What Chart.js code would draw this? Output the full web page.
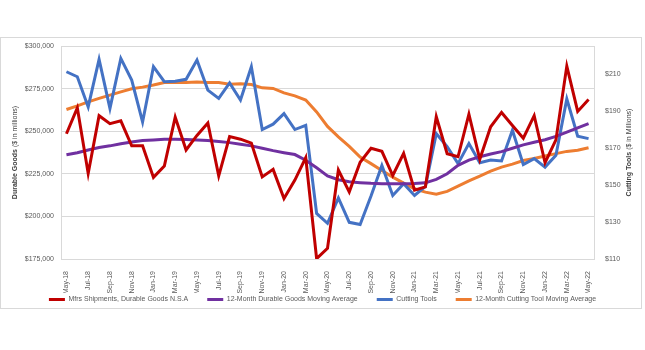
<!DOCTYPE html>
<html>
<head>
<meta charset="utf-8">
<script src="https://cdn.jsdelivr.net/npm/chart.js@4"></script>
<style>
  body { margin: 0; background: #fff; }
  #wrap { position: relative; width: 645px; height: 350px; }
  #frame { position: absolute; left: 0; top: 37px; width: 642px; height: 272px; border: 1px solid #d9d9d9; box-sizing: border-box; }
  canvas { position: absolute; left: 0; top: 0; }
</style>
</head>
<body>
<div id="wrap">
  <div id="frame"></div>
  <canvas id="chart" width="645" height="350"></canvas>
</div>
<script>
const months = [
  'May-18', 'Jun-18', 'Jul-18', 'Aug-18', 'Sep-18', 'Oct-18', 'Nov-18', 'Dec-18',
  'Jan-19', 'Feb-19', 'Mar-19', 'Apr-19', 'May-19', 'Jun-19', 'Jul-19', 'Aug-19', 'Sep-19', 'Oct-19', 'Nov-19', 'Dec-19',
  'Jan-20', 'Feb-20', 'Mar-20', 'Apr-20', 'May-20', 'Jun-20', 'Jul-20', 'Aug-20', 'Sep-20', 'Oct-20', 'Nov-20', 'Dec-20',
  'Jan-21', 'Feb-21', 'Mar-21', 'Apr-21', 'May-21', 'Jun-21', 'Jul-21', 'Aug-21', 'Sep-21', 'Oct-21', 'Nov-21', 'Dec-21',
  'Jan-22', 'Feb-22', 'Mar-22', 'Apr-22', 'May-22'
]

// $ millions, left axis
const durableGoods = [
  248500, 263700, 225200, 259100, 254400, 256100, 241400, 241400,
  222900, 229500, 258300, 239000, 247500, 254800, 223800, 246900, 245300, 243000, 223200, 227600,
  210500, 221300, 234500, 175200, 181300, 227200, 214400, 231800, 240000, 238200, 224000, 237000,
  215400, 217300, 258500, 236800, 235000, 260000, 233500, 252600, 261000, 253300, 245900, 259100,
  231500, 244900, 288200, 261600, 268600
]
const durableAvg = [
  236200, 237400, 239000, 240400, 241400, 242600, 243700, 244500,
  244900, 245300, 245300, 245100, 244900, 244500, 243900, 243300, 242400, 241400, 240000, 238600,
  237400, 236300, 233000, 228500, 223800, 221500, 220300, 219800, 219400, 219200, 219200, 219200,
  219300, 219700, 221700, 225000, 230000, 233000, 235000, 236600, 238000, 240000, 242000, 243500,
  245000, 247000, 249500, 252000, 254500
]

// $ millions, right axis
const cuttingTools = [
  211.1, 208.4, 192.1, 217.8, 191.3, 218.3, 206.6, 184.0,
  213.8, 205.7, 206.0, 207.0, 217.4, 201.2, 196.7, 205.1, 195.8, 213.8, 179.9, 182.8,
  188.5, 179.9, 182.2, 134.6, 129.3, 143.0, 129.8, 128.6, 144.0, 160.5, 144.3, 150.6,
  144.3, 149.2, 177.7, 170.6, 161.5, 172.3, 162.0, 163.4, 162.9, 179.5, 161.0, 164.2,
  159.6, 166.0, 196.4, 176.3, 175.0
]
const cuttingAvg = [
  190.7, 192.7, 194.8, 196.7, 198.5, 200.2, 201.9, 202.8,
  203.9, 205.3, 205.3, 205.3, 205.5, 205.3, 205.3, 204.4, 204.6, 204.2, 202.4, 202.1,
  199.7, 198.1, 195.8, 189.4, 181.6, 175.9, 170.8, 165.0, 161.5, 157.8, 154.2, 151.0,
  147.9, 146.1, 145.0, 146.5, 149.3, 152.2, 154.8, 157.4, 159.6, 161.2, 163.2, 164.3,
  165.6, 166.9, 168.1, 168.7, 170.1
]

const rightTicks = [110, 130, 150, 170, 190, 210]

const fontFamily = '"Liberation Sans", Arial, sans-serif'
Chart.defaults.font.family = fontFamily
Chart.defaults.font.size = 7
Chart.defaults.color = '#595959'

function drawTitle(ctx, x, y, boldPart, normalPart) {
  ctx.save()
  ctx.translate(x, y)
  ctx.rotate(-Math.PI / 2)
  ctx.textBaseline = 'middle'
  ctx.textAlign = 'left'
  ctx.fillStyle = '#404040'
  ctx.font = 'bold 7px ' + fontFamily
  const w1 = ctx.measureText(boldPart).width
  ctx.font = '7px ' + fontFamily
  const w2 = ctx.measureText(normalPart).width
  const start = -(w1 + w2) / 2
  ctx.font = 'bold 7px ' + fontFamily
  ctx.fillText(boldPart, start, 0)
  ctx.font = '7px ' + fontFamily
  ctx.fillText(normalPart, start + w1, 0)
  ctx.restore()
}

// axis titles with a bold and a plain part
const axisTitles = {
  id: 'axisTitles',
  beforeDraw(chart) {
    // let the rotated month labels reach below the thin x box without clipping
    const x = chart.scales.x
    x.bottom = x.top + 34
  },
  afterDraw(chart) {
    const area = chart.chartArea
    const cy = (area.top + area.bottom) / 2
    drawTitle(chart.ctx, 15, cy, 'Durable Goods ', '($ in millions)')
    drawTitle(chart.ctx, 629, cy, 'Cutting Tools ', '($ in Millions)')
  }
}

function line(label, data, color, axis) {
  return {
    label,
    data,
    yAxisID: axis,
    borderColor: color,
    backgroundColor: color,
    borderWidth: 3,
    pointRadius: 0,
    tension: 0
  }
}

new Chart(document.getElementById('chart'), {
  type: 'line',
  data: {
    labels: months,
    datasets: [
      line('Mfrs Shipments, Durable Goods N.S.A', durableGoods, '#c00000', 'y'),
      line('12-Month Durable Goods Moving Average', durableAvg, '#7030a0', 'y'),
      line('Cutting Tools', cuttingTools, '#4472c4', 'y2'),
      line('12-Month Cutting Tool Moving Average', cuttingAvg, '#ed7d31', 'y2')
    ]
  },
  options: {
    responsive: false,
    animation: false,
    layout: { padding: { top: 46, bottom: 37, left: 0, right: 0 } },
    plugins: {
      tooltip: { enabled: false },
      legend: {
        position: 'bottom',
        labels: {
          boxWidth: 16,
          boxHeight: 3,
          padding: 19,
          font: { size: 7 },
          generateLabels: c => Chart.defaults.plugins.legend.labels.generateLabels(c).map(l => ({ ...l, lineWidth: 0 }))
        }
      }
    },
    scales: {
      x: {
        offset: true,
        grid: { display: false },
        border: { display: false },
        ticks: {
          autoSkip: false,
          minRotation: 90,
          maxRotation: 90,
          padding: 4,
          callback: (v, i) => i % 2 === 0 ? months[i] : ''
        },
        afterFit: s => { s.height = 18 }
      },
      y: {
        position: 'left',
        min: 175000,
        max: 300000,
        grid: { color: '#d9d9d9', drawTicks: false },
        border: { color: '#d9d9d9' },
        ticks: {
          stepSize: 25000,
          padding: 7,
          callback: v => '$' + v.toLocaleString('en-US')
        },
        afterFit: s => { s.width = 61 }
      },
      y2: {
        position: 'right',
        min: 110,
        max: 225,
        grid: { drawOnChartArea: false, drawTicks: false },
        border: { color: '#d9d9d9' },
        ticks: {
          padding: 11,
          callback: v => '$' + v
        },
        afterBuildTicks: s => { s.ticks = rightTicks.map(v => ({ value: v })) },
        afterFit: s => { s.width = 51 }
      }
    }
  },
  plugins: [axisTitles]
})
</script>
</body>
</html>
